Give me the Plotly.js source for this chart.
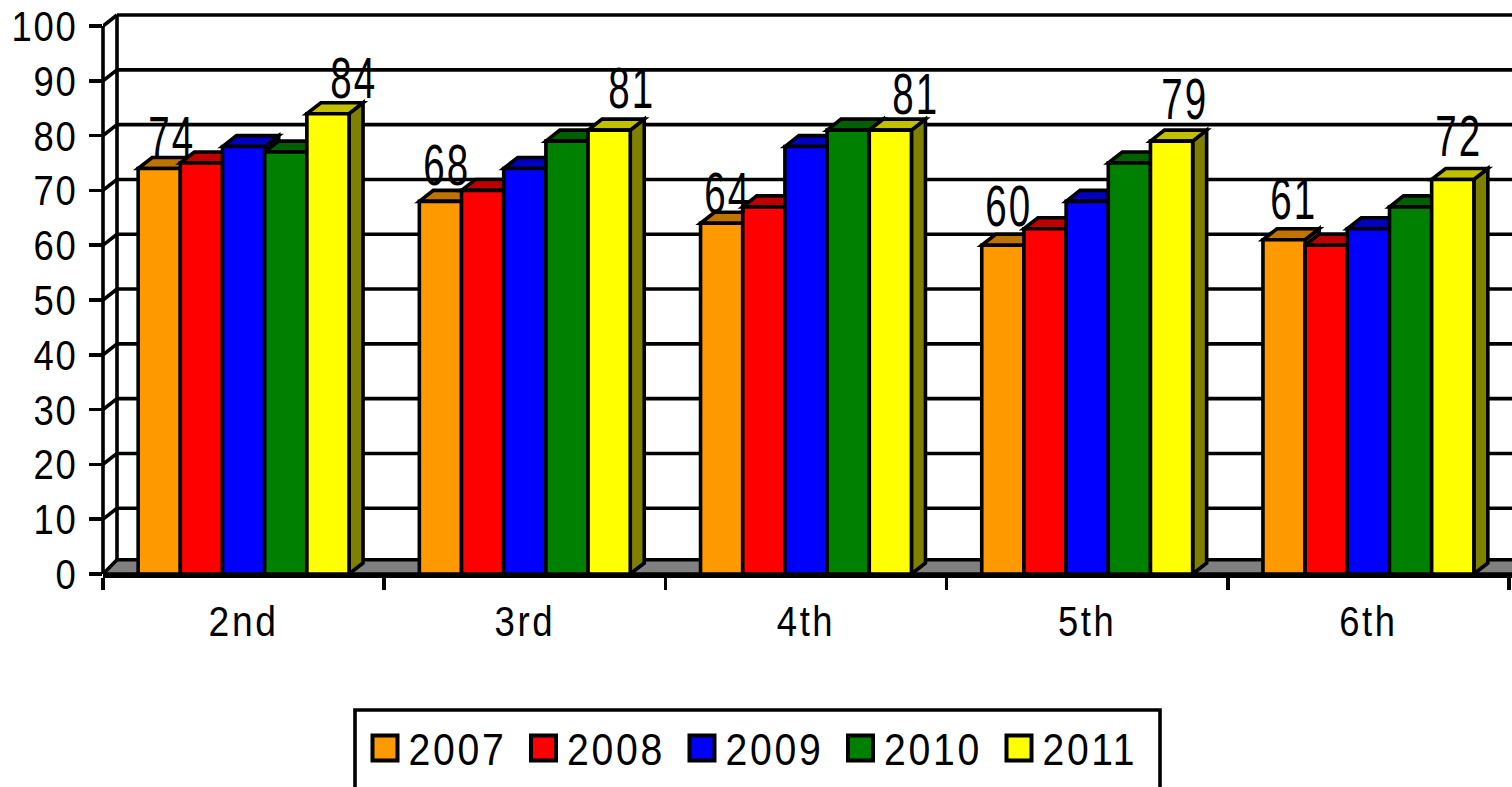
<!DOCTYPE html>
<html>
<head>
<meta charset="utf-8">
<script src="https://cdn.plot.ly/plotly-3.0.1.min.js"></script>
<style>html,body{margin:0;padding:0;background:#fff;overflow:hidden}</style>
</head>
<body>
<div id="chart" style="width:1512px;height:787px"></div>
<script>
var grades = ['2nd', '3rd', '4th', '5th', '6th'];
var years = ['2007', '2008', '2009', '2010', '2011'];
var v2007 = [74, 68, 64, 60, 61];
var v2008 = [75, 70, 67, 63, 60];
var v2009 = [78, 74, 78, 68, 63];
var v2010 = [77, 79, 81, 75, 67];
var v2011 = [84, 81, 81, 79, 72];
var yTicks = [0, 10, 20, 30, 40, 50, 60, 70, 80, 90, 100];
var frontColors = ['#FF9900', '#FF0000', '#0000FF', '#008000', '#FFFF00'];
var topColors = ['#C07300', '#C00000', '#0000C0', '#006000', '#C0C000'];
var sideColors = ['#804D00', '#800000', '#000080', '#004000', '#808000'];

var series = [v2007, v2008, v2009, v2010, v2011];

// Page geometry
var W = 1512, H = 787, mL = 103, mB = 213, mT = 2;
var plotW = W - mL, plotH = H - mB - mT;
var catPx = 281.2;
var xMin = -0.5, xMax = xMin + plotW / catPx;
var yMax = plotH / 5.48;
var bargap = 0.25;
var barW = (1 - bargap) / 5;
var dX = 14 / catPx, dY = 2, floorDY = 2.6;
var LW = 3.6;

var shapes = [];
function line(x0, y0, x1, y1, w) {
  shapes.push({type: 'line', layer: 'below', xref: 'x', yref: 'y', x0: x0, y0: y0, x1: x1, y1: y1,
    line: {color: '#000', width: w || LW}});
}
function poly(pts, fill) {
  var d = pts.map(function (p, i) { return (i ? 'L' : 'M') + p[0] + ',' + p[1]; }).join('') + 'Z';
  shapes.push({type: 'path', layer: 'below', xref: 'x', yref: 'y', path: d, fillcolor: fill,
    line: {color: '#000', width: LW}});
}
// Back wall grid lines and their connectors to the front axis
yTicks.forEach(function (t) {
  if (t > 0) {
    line(xMin + dX, t + dY, xMax + 1, t + dY);
    line(xMin, t, xMin + dX, t + dY);
  }
});
line(xMin + dX, floorDY, xMin + dX, 100 + dY);
// Floor of the 3D box
poly([[xMin, 0], [xMax + 1, 0], [xMax + 1, floorDY], [xMin + dX, floorDY]], '#808080');
shapes.push({type: 'line', layer: 'below', xref: 'paper', yref: 'y', x0: 0, x1: 0, y0: 0, y1: 100, line: {color: '#000', width: LW}});

// Top and side faces of each bar
grades.forEach(function (g, c) {
  series.forEach(function (vals, s) {
    var left = c - (1 - bargap) / 2 + s * barW, right = left + barW, v = vals[c];
    poly([[right, 0], [right + dX, dY], [right + dX, v + dY], [right, v]], sideColors[s]);
    poly([[left, v], [left + dX, v + dY], [right + dX, v + dY], [right, v]], topColors[s]);
  });
});

// Legend frame
function pxX(p) { return (p - mL) / plotW; }
function pxY(p) { return (H - mB - p) / plotH; }
shapes.push({type: 'rect', layer: 'above', xref: 'paper', yref: 'paper',
  x0: pxX(355), x1: pxX(1160), y0: pxY(710), y1: pxY(810), line: {color: '#000', width: LW}});

var traces = series.map(function (vals, s) {
  return {type: 'bar', name: years[s], x: grades, y: vals,
    marker: {color: frontColors[s], line: {color: '#000', width: LW}}, hoverinfo: 'skip'};
});

// Hand-placed data labels: pixel nudges from the centre of each bar's top
var labelNudge = [
  {s: 0, vals: v2007, dx: [-2, -8, -8, -8, -5], dy: [0, 4, -2, 7, 9]},
  {s: 4, vals: v2011, dx: [12, 8, 11, -1, -8], dy: [4, 10, 4, 10, 11]}
];
var annotations = [];
labelNudge.forEach(function (n) {
  n.vals.forEach(function (v, c) {
    var left = c - (1 - bargap) / 2 + n.s * barW;
    annotations.push({x: left + barW / 2 + dX, y: v + dY, xref: 'x', yref: 'y', text: String(v),
      showarrow: false, xanchor: 'center', yanchor: 'bottom',
      xshift: n.dx[c], yshift: n.dy[c] - 13,
      font: {family: '"Liberation Sans", Arial, sans-serif', size: 57, color: '#000'}});
  });
});

var font = '"Liberation Sans", Arial, sans-serif';
var layout = {
  width: W, height: H,
  margin: {l: mL, r: 0, t: mT, b: mB, pad: 0, autoexpand: false},
  paper_bgcolor: '#fff', plot_bgcolor: '#fff',
  barmode: 'group', bargap: bargap, bargroupgap: 0,
  showlegend: true,
  legend: {orientation: 'h', x: pxX(361.5), y: pxY(713), xanchor: 'left', yanchor: 'top',
    entrywidth: 106.5, entrywidthmode: 'pixels', itemwidth: 37, traceorder: 'normal',
    bgcolor: 'rgba(0,0,0,0)', font: {family: font, size: 44, color: '#000'}},
  xaxis: {type: 'category', categoryorder: 'array', categoryarray: grades, range: [xMin, xMax],
    tickson: 'boundaries', ticks: 'outside', ticklen: 12, tickwidth: LW, tickcolor: '#000',
    showline: true, linecolor: '#000', linewidth: LW, showgrid: false, zeroline: false,
    ticklabelstandoff: 8,
    tickfont: {family: font, size: 42, color: '#000'}, fixedrange: true},
  yaxis: {range: [0, yMax], tickmode: 'array', tickvals: yTicks, ticktext: yTicks.map(String),
    ticks: 'outside', ticklen: 13, tickwidth: LW, tickcolor: '#000', showline: false,
    showgrid: false, zeroline: false, ticklabelstandoff: 3,
    tickfont: {family: font, size: 43, color: '#000'}, fixedrange: true},
  shapes: shapes,
  annotations: annotations
};

// Reference type is drawn tall and narrow with open tracking
function squeeze(selector, factor, spacing) {
  document.querySelectorAll(selector).forEach(function (t) {
    var natural = t.getComputedTextLength();
    t.style.letterSpacing = spacing + 'px';
    t.setAttribute('lengthAdjust', 'spacingAndGlyphs');
    t.setAttribute('textLength', natural * factor);
  });
}

Plotly.newPlot('chart', traces, layout, {displayModeBar: false, staticPlot: true}).then(function () {
  document.querySelectorAll('.legend .legendpoints path').forEach(function (p) {
    p.setAttribute('d', 'M12.5,12.5H-12.5V-12.5H12.5z');
    p.style.strokeWidth = '4px';
  });
  squeeze('.ytick text', 0.92, 2);
  squeeze('.xtick text', 1.0, 3);
  squeeze('.legend text', 1.0, 3);
  squeeze('.annotation-text', 0.74, 3);
});
</script>
</body>
</html>
